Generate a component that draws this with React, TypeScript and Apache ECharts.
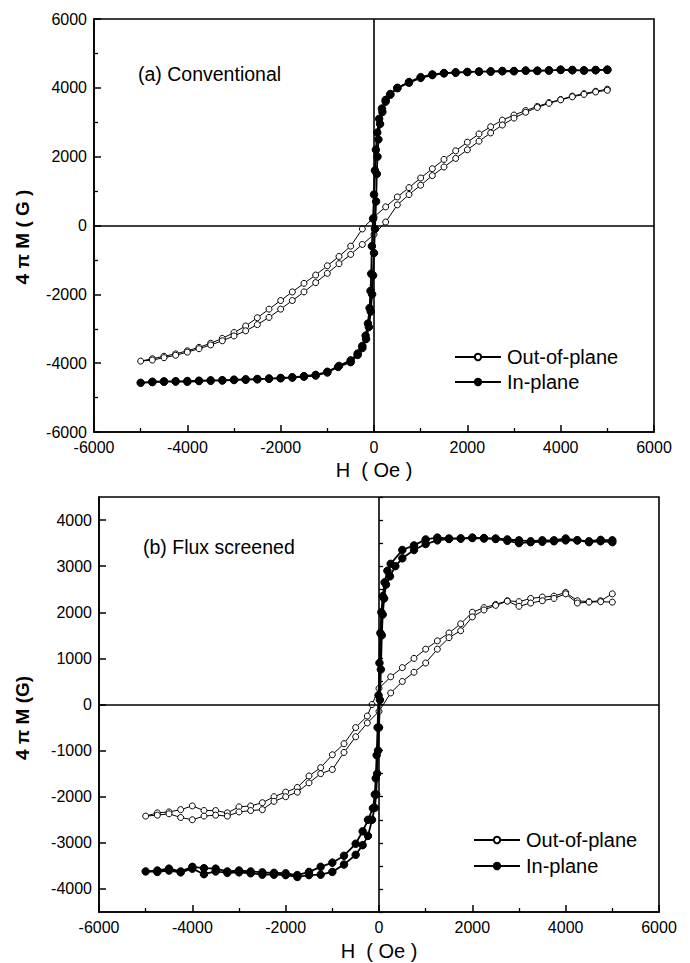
import React, { useEffect, useRef } from 'react';
import * as echarts from 'echarts';

// ---------- Data (H in Oe, 4πM in G) ----------
// Panel (a) Conventional
const aInPlaneDown: [number, number][] = [
  [5000, 4530], [4750, 4510], [4500, 4500], [4250, 4520], [4000, 4530], [3750, 4500], [3500, 4490],
  [3250, 4500], [3000, 4480], [2750, 4480], [2500, 4470], [2250, 4470], [2000, 4460], [1750, 4440],
  [1500, 4420], [1250, 4370], [1000, 4290], [750, 4150], [500, 3990], [350, 3800], [250, 3650],
  [170, 3400], [110, 3100], [70, 2700], [40, 2200], [20, 1600], [0, 900], [-20, 200], [-45, -600],
  [-60, -1400], [-75, -1900], [-95, -2400], [-130, -2850], [-180, -3200], [-250, -3500], [-350, -3760],
  [-500, -3970], [-770, -4110], [-1000, -4270], [-1250, -4360], [-1500, -4390], [-1750, -4420],
  [-2000, -4440], [-2250, -4450], [-2500, -4470], [-2750, -4480], [-3000, -4490], [-3250, -4500],
  [-3500, -4510], [-3750, -4520], [-4000, -4540], [-4250, -4530], [-4500, -4540], [-4750, -4550],
  [-5000, -4570],
];
const aInPlaneUp: [number, number][] = [
  [-5000, -4570], [-4750, -4540], [-4500, -4530], [-4250, -4530], [-4000, -4520], [-3750, -4510],
  [-3500, -4500], [-3250, -4500], [-3000, -4480], [-2750, -4470], [-2500, -4460], [-2250, -4450],
  [-2000, -4430], [-1750, -4410], [-1500, -4380], [-1250, -4340], [-1000, -4250], [-750, -4080],
  [-500, -3920], [-350, -3720], [-250, -3560], [-170, -3300], [-110, -2950], [-70, -2500],
  [-40, -2000], [-20, -1450], [0, -800], [20, -100], [45, 700], [60, 1500], [75, 2000], [95, 2500],
  [130, 2950], [180, 3300], [250, 3600], [350, 3820], [500, 4000], [750, 4170], [1000, 4310],
  [1250, 4390], [1500, 4430], [1750, 4450], [2000, 4460], [2250, 4470], [2500, 4480], [2750, 4490],
  [3000, 4490], [3250, 4500], [3500, 4500], [3750, 4510], [4000, 4520], [4250, 4510], [4500, 4510],
  [4750, 4520], [5000, 4520],
];
const aOutPlaneDown: [number, number][] = [
  [5000, 3960], [4750, 3900], [4500, 3830], [4250, 3760], [4000, 3660], [3750, 3570], [3500, 3460],
  [3250, 3340], [3000, 3210], [2750, 3060], [2500, 2870], [2250, 2660], [2000, 2420], [1750, 2170],
  [1500, 1920], [1250, 1650], [1000, 1380], [750, 1100], [500, 830], [250, 540], [0, 250],
  [-250, -100], [-500, -600], [-750, -900], [-1000, -1170], [-1250, -1440], [-1500, -1680],
  [-1750, -1930], [-2000, -2180], [-2250, -2430], [-2500, -2680], [-2750, -2920], [-3000, -3110],
  [-3250, -3280], [-3500, -3420], [-3750, -3540], [-4000, -3640], [-4250, -3730], [-4500, -3800],
  [-4750, -3870], [-5000, -3940],
];
const aOutPlaneUp: [number, number][] = [
  [-5000, -3940], [-4750, -3910], [-4500, -3840], [-4250, -3770], [-4000, -3680], [-3750, -3580],
  [-3500, -3470], [-3250, -3350], [-3000, -3210], [-2750, -3060], [-2500, -2880], [-2250, -2670],
  [-2000, -2430], [-1750, -2180], [-1500, -1930], [-1250, -1660], [-1000, -1390], [-750, -1110],
  [-500, -840], [-250, -550], [0, -260], [250, 100], [500, 600], [750, 900], [1000, 1170],
  [1250, 1450], [1500, 1700], [1750, 1950], [2000, 2200], [2250, 2450], [2500, 2690], [2750, 2920],
  [3000, 3120], [3250, 3290], [3500, 3430], [3750, 3550], [4000, 3650], [4250, 3740], [4500, 3810],
  [4750, 3880], [5000, 3930],
];

// Panel (b) Flux screened
const bInPlaneDown: [number, number][] = [
  [5000, 3560], [4750, 3570], [4500, 3540], [4250, 3560], [4000, 3600], [3750, 3560], [3500, 3560],
  [3250, 3540], [3000, 3560], [2750, 3580], [2500, 3600], [2250, 3610], [2000, 3620], [1750, 3600],
  [1500, 3600], [1250, 3620], [1000, 3580], [750, 3450], [500, 3350], [250, 3050], [180, 2900],
  [120, 2650], [80, 2350], [50, 2000], [30, 1550], [10, 900], [-10, 200], [-30, -500], [-50, -1100],
  [-70, -1600], [-90, -1950], [-130, -2250], [-236, -2500], [-350, -2750], [-500, -3020],
  [-750, -3280], [-1000, -3430], [-1250, -3520], [-1500, -3630], [-1750, -3700], [-2000, -3660],
  [-2250, -3650], [-2500, -3640], [-2750, -3620], [-3000, -3600], [-3250, -3620], [-3500, -3560],
  [-3750, -3550], [-4000, -3520], [-4250, -3620], [-4500, -3560], [-4750, -3600], [-5000, -3620],
];
const bInPlaneUp: [number, number][] = [
  [-5000, -3620], [-4750, -3630], [-4500, -3600], [-4250, -3640], [-4000, -3560], [-3750, -3680],
  [-3500, -3620], [-3250, -3650], [-3000, -3640], [-2750, -3660], [-2500, -3690], [-2250, -3690],
  [-2000, -3700], [-1750, -3740], [-1500, -3700], [-1250, -3690], [-1000, -3630], [-750, -3470],
  [-500, -3260], [-350, -3050], [-236, -2850], [-150, -2500], [-90, -2240], [-60, -1950],
  [-40, -1500], [-20, -1000], [0, -500], [20, 100], [40, 760], [60, 1500], [80, 1950], [110, 2300],
  [150, 2600], [236, 2780], [350, 3000], [500, 3170], [750, 3350], [1000, 3480], [1250, 3560],
  [1500, 3590], [1750, 3600], [2000, 3610], [2250, 3600], [2500, 3590], [2750, 3550], [3000, 3500],
  [3250, 3520], [3500, 3530], [3750, 3540], [4000, 3560], [4250, 3560], [4500, 3520], [4750, 3540],
  [5000, 3520],
];
const bOutPlaneDown: [number, number][] = [
  [5000, 2400], [4750, 2250], [4500, 2230], [4250, 2250], [4000, 2430], [3750, 2350], [3500, 2330],
  [3250, 2300], [3000, 2230], [2750, 2250], [2500, 2170], [2250, 2100], [2000, 2000], [1750, 1750],
  [1500, 1550], [1250, 1380], [1000, 1200], [750, 1000], [500, 800], [250, 600], [0, 350],
  [-150, 0], [-250, -250], [-500, -500], [-750, -850], [-1000, -1090], [-1250, -1370],
  [-1500, -1550], [-1750, -1800], [-2000, -1900], [-2250, -2000], [-2500, -2130], [-2750, -2200],
  [-3000, -2220], [-3250, -2350], [-3500, -2300], [-3750, -2300], [-4000, -2200], [-4250, -2280],
  [-4500, -2330], [-4750, -2350], [-5000, -2420],
];
const bOutPlaneUp: [number, number][] = [
  [-5000, -2420], [-4750, -2400], [-4500, -2370], [-4250, -2450], [-4000, -2500], [-3750, -2420],
  [-3500, -2400], [-3250, -2420], [-3000, -2330], [-2750, -2300], [-2500, -2280], [-2250, -2100],
  [-2000, -2000], [-1750, -1900], [-1500, -1700], [-1250, -1500], [-1000, -1410], [-750, -1040],
  [-500, -700], [-250, -400], [0, -150], [250, 250], [500, 500], [750, 700], [1000, 900],
  [1250, 1200], [1500, 1450], [1750, 1600], [2000, 1900], [2250, 2050], [2500, 2150], [2750, 2240],
  [3000, 2130], [3250, 2200], [3500, 2250], [3750, 2300], [4000, 2400], [4250, 2200], [4500, 2220],
  [4750, 2230], [5000, 2220],
];

const SERIES_NAMES = ['Out-of-plane', 'In-plane'];
const B_Y_LABELS = [-4000, -3000, -2000, -1000, 0, 1000, 2000, 3000, 4000];

const FONT = 'Liberation Sans, Arial, Helvetica, sans-serif';

const loop = (down: [number, number][], up: [number, number][]) => down.concat(up.slice(1));

function makeSeries(name: string, data: [number, number][], axisIdx: number, filled: boolean, withZeroLines: boolean) {
  const s: any = {
    name,
    type: 'line',
    xAxisIndex: axisIdx,
    yAxisIndex: axisIdx === 0 ? 0 : 1,
    data,
    symbol: 'circle',
    symbolSize: filled ? 7.5 : 6,
    showSymbol: true,
    lineStyle: { color: '#000', width: filled ? 1.8 : 1 },
    itemStyle: { color: filled ? '#000' : '#fff', borderColor: '#000', borderWidth: 1 },
    emphasis: { disabled: true },
    z: filled ? 4 : 3,
  };
  if (withZeroLines) {
    s.markLine = {
      silent: true,
      symbol: 'none',
      label: { show: false },
      lineStyle: { color: '#000', width: 1.6, type: 'solid' },
      emphasis: { disabled: true },
      data: [{ xAxis: 0 }, { yAxis: 0 }],
    };
  }
  return s;
}

function xAxis(gridIndex: number) {
  return {
    type: 'value',
    gridIndex,
    min: -6000,
    max: 6000,
    interval: 2000,
    axisLine: { show: true, onZero: false, lineStyle: { color: '#000', width: 1.6 } },
    axisTick: { show: true, inside: true, length: 7, lineStyle: { color: '#000', width: 1.5 } },
    minorTick: { show: true, splitNumber: 2, length: 4, lineStyle: { color: '#000', width: 1.3 } },
    splitLine: { show: false },
    minorSplitLine: { show: false },
    axisLabel: { color: '#000', fontSize: 16, fontFamily: FONT, margin: 7, formatter: (v: number) => String(v) },
  };
}

export default function App() {
  const ref = useRef<HTMLDivElement>(null);
  useEffect(() => {
    if (!ref.current) return;
    const chart = echarts.init(ref.current, undefined, { renderer: 'svg' });
    const option: any = {
      animation: false,
      backgroundColor: '#fff',
      grid: [
        { left: 94, top: 19, width: 560, height: 413, show: true, borderColor: '#000', borderWidth: 1.6, backgroundColor: 'transparent' },
        { left: 99, top: 497, width: 560, height: 415, show: true, borderColor: '#000', borderWidth: 1.6, backgroundColor: 'transparent' },
      ],
      xAxis: [xAxis(0), xAxis(1)],
      yAxis: [
        {
          type: 'value',
          gridIndex: 0,
          min: -6000,
          max: 6000,
          interval: 2000,
          axisLine: { show: true, onZero: false, lineStyle: { color: '#000', width: 1.6 } },
          axisTick: { show: true, inside: true, length: 7, lineStyle: { color: '#000', width: 1.5 } },
          minorTick: { show: true, splitNumber: 2, length: 4, lineStyle: { color: '#000', width: 1.3 } },
          splitLine: { show: false },
          axisLabel: { color: '#000', fontSize: 16, fontFamily: FONT, margin: 7, formatter: (v: number) => String(v) },
        },
        {
          type: 'value',
          gridIndex: 1,
          min: -4500,
          max: 4500,
          axisLine: { show: true, onZero: false, lineStyle: { color: '#000', width: 1.6 } },
          axisTick: { show: true, inside: true, length: 7, lineStyle: { color: '#000', width: 1.5 }, customValues: B_Y_LABELS },
          splitLine: { show: false },
          axisLabel: { color: '#000', fontSize: 16, fontFamily: FONT, margin: 7, customValues: B_Y_LABELS, formatter: (v: number) => String(v) },
        },
        {
          type: 'value',
          gridIndex: 1,
          position: 'left',
          min: -4500,
          max: 4500,
          interval: 500,
          axisLine: { show: false },
          axisTick: { show: true, inside: true, length: 4, lineStyle: { color: '#000', width: 1.3 } },
          splitLine: { show: false },
          axisLabel: { show: false },
        },
      ],
      legend: [
        {
          data: SERIES_NAMES,
          orient: 'vertical',
          left: 449,
          top: 342,
          itemWidth: 46,
          itemHeight: 8,
          itemGap: 5,
          selectedMode: false,
          textStyle: { color: '#000', fontSize: 20, fontFamily: FONT, lineHeight: 20, padding: [0, 0, 0, 1] },
        },
        {
          data: SERIES_NAMES,
          orient: 'vertical',
          left: 468,
          top: 825,
          itemWidth: 46,
          itemHeight: 8,
          itemGap: 6,
          selectedMode: false,
          textStyle: { color: '#000', fontSize: 20, fontFamily: FONT, lineHeight: 20, padding: [0, 0, 0, 1] },
        },
      ],
      graphic: [
        { type: 'text', left: 138, top: 64, style: { text: '(a) Conventional', fontSize: 19.5, fontFamily: FONT, fill: '#000' } },
        { type: 'text', left: 143, top: 537, style: { text: '(b) Flux screened', fontSize: 19.5, fontFamily: FONT, fill: '#000' } },
        { type: 'text', x: 374, y: 470, style: { text: 'H  ( Oe )', fontSize: 20, fontFamily: FONT, fill: '#000', textAlign: 'center', textVerticalAlign: 'middle' } },
        { type: 'text', x: 379, y: 951, style: { text: 'H  ( Oe )', fontSize: 20, fontFamily: FONT, fill: '#000', textAlign: 'center', textVerticalAlign: 'middle' } },
        { type: 'text', x: 22, y: 237, rotation: Math.PI / 2, style: { text: '4 π M ( G )', fontSize: 19, fontWeight: 'bold', fontFamily: FONT, fill: '#000', textAlign: 'center', textVerticalAlign: 'middle' } },
        { type: 'text', x: 22, y: 718, rotation: Math.PI / 2, style: { text: '4 π M (G)', fontSize: 19, fontWeight: 'bold', fontFamily: FONT, fill: '#000', textAlign: 'center', textVerticalAlign: 'middle' } },
      ],
      series: [
        makeSeries('Out-of-plane', loop(aOutPlaneDown, aOutPlaneUp), 0, false, true),
        makeSeries('In-plane', loop(aInPlaneDown, aInPlaneUp), 0, true, false),
        makeSeries('Out-of-plane', loop(bOutPlaneDown, bOutPlaneUp), 1, false, true),
        makeSeries('In-plane', loop(bInPlaneDown, bInPlaneUp), 1, true, false),
      ],
    };
    chart.setOption(option);
    return () => chart.dispose();
  }, []);
  return <div ref={ref} style={{ position: 'absolute', left: 0, top: 0, width: 690, height: 963, background: '#fff' }} />;
}
